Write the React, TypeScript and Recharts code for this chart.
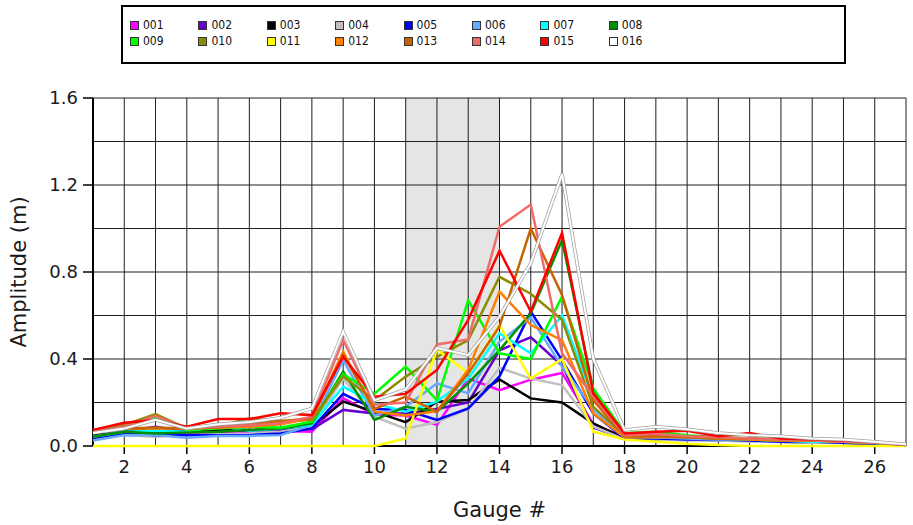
import { LineChart, Line, XAxis, YAxis, CartesianGrid, ReferenceArea } from "recharts";

const gauges = [1, 2, 3, 4, 5, 6, 7, 8, 9, 10, 11, 12, 13, 14, 15, 16, 17, 18, 19, 20, 21, 22, 23, 24, 25, 26, 27];

const seriesNames = ["001", "002", "003", "004", "005", "006", "007", "008", "009", "010", "011", "012", "013", "014", "015", "016"];
const seriesColors = [
  "#ff00ff", "#6600cc", "#000000", "#c0c0c0", "#0000ff", "#66aaff", "#00ffff", "#009000",
  "#00ff00", "#8c8c00", "#ffff00", "#ff7f00", "#c86400", "#f06a6a", "#ff0000", "#ffffff",
];

// amplitude (m) per gauge
const s001 = [0.038, 0.058, 0.062, 0.058, 0.062, 0.066, 0.069, 0.066, 0.219, 0.145, 0.14, 0.097, 0.31, 0.257, 0.305, 0.336, 0.1, 0.04, 0.04, 0.035, 0.03, 0.025, 0.02, 0.02, 0.015, 0.01, 0.005];
const s002 = [0.043, 0.066, 0.089, 0.066, 0.069, 0.072, 0.075, 0.077, 0.166, 0.15, 0.15, 0.17, 0.2, 0.44, 0.5, 0.37, 0.085, 0.035, 0.035, 0.03, 0.03, 0.025, 0.02, 0.02, 0.015, 0.01, 0.005];
const s003 = [0.05, 0.066, 0.07, 0.066, 0.074, 0.089, 0.08, 0.089, 0.204, 0.158, 0.11, 0.204, 0.211, 0.306, 0.219, 0.2, 0.104, 0.035, 0.03, 0.03, 0.025, 0.025, 0.02, 0.015, 0.015, 0.01, 0.005];
const s004 = [0.028, 0.05, 0.043, 0.05, 0.054, 0.058, 0.066, 0.089, 0.31, 0.135, 0.08, 0.11, 0.17, 0.36, 0.31, 0.28, 0.09, 0.03, 0.03, 0.025, 0.025, 0.02, 0.02, 0.015, 0.015, 0.01, 0.005];
const s005 = [0.035, 0.058, 0.05, 0.05, 0.05, 0.05, 0.058, 0.081, 0.24, 0.17, 0.165, 0.12, 0.173, 0.32, 0.618, 0.395, 0.15, 0.035, 0.035, 0.03, 0.03, 0.025, 0.02, 0.02, 0.015, 0.01, 0.005];
const s006 = [0.025, 0.05, 0.05, 0.038, 0.046, 0.046, 0.05, 0.097, 0.395, 0.14, 0.18, 0.288, 0.242, 0.48, 0.59, 0.365, 0.17, 0.04, 0.04, 0.035, 0.03, 0.03, 0.025, 0.02, 0.02, 0.015, 0.005];
const s007 = [0.043, 0.066, 0.07, 0.066, 0.093, 0.07, 0.08, 0.097, 0.273, 0.196, 0.158, 0.204, 0.31, 0.518, 0.426, 0.6, 0.22, 0.045, 0.04, 0.04, 0.035, 0.03, 0.025, 0.02, 0.02, 0.015, 0.005];
const s008 = [0.043, 0.066, 0.058, 0.062, 0.066, 0.074, 0.08, 0.104, 0.342, 0.12, 0.18, 0.158, 0.288, 0.441, 0.61, 0.947, 0.257, 0.06, 0.05, 0.04, 0.035, 0.03, 0.025, 0.025, 0.02, 0.015, 0.005];
const s009 = [0.058, 0.089, 0.127, 0.074, 0.08, 0.089, 0.085, 0.112, 0.33, 0.24, 0.365, 0.21, 0.67, 0.426, 0.4, 0.687, 0.265, 0.06, 0.065, 0.05, 0.04, 0.035, 0.03, 0.025, 0.02, 0.015, 0.005];
const s010 = [0.074, 0.097, 0.147, 0.081, 0.089, 0.127, 0.112, 0.12, 0.32, 0.21, 0.319, 0.41, 0.487, 0.778, 0.7, 0.58, 0.18, 0.05, 0.05, 0.045, 0.04, 0.035, 0.03, 0.035, 0.025, 0.02, 0.005];
const s011 = [0, 0, 0, 0, 0, 0, 0, 0, 0, 0, 0.035, 0.444, 0.334, 0.556, 0.31, 0.4, 0.066, 0.03, 0.02, 0.01, 0.005, 0, 0, 0, 0, 0, 0];
const s012 = [0.07, 0.081, 0.081, 0.081, 0.085, 0.089, 0.1, 0.127, 0.434, 0.158, 0.14, 0.16, 0.35, 0.71, 0.556, 0.487, 0.15, 0.04, 0.04, 0.04, 0.035, 0.03, 0.025, 0.025, 0.02, 0.015, 0.005];
const s013 = [0.074, 0.081, 0.085, 0.08, 0.085, 0.1, 0.115, 0.127, 0.42, 0.17, 0.227, 0.158, 0.334, 0.55, 1.0, 0.694, 0.21, 0.045, 0.045, 0.04, 0.035, 0.035, 0.03, 0.035, 0.025, 0.02, 0.005];
const s014 = [0.066, 0.09, 0.139, 0.08, 0.089, 0.095, 0.105, 0.135, 0.487, 0.19, 0.2, 0.467, 0.49, 1.008, 1.11, 0.426, 0.227, 0.05, 0.055, 0.045, 0.04, 0.035, 0.03, 0.025, 0.02, 0.015, 0.005];
const s015 = [0.074, 0.107, 0.12, 0.089, 0.124, 0.124, 0.15, 0.142, 0.41, 0.227, 0.24, 0.35, 0.58, 0.898, 0.618, 0.98, 0.242, 0.058, 0.066, 0.07, 0.045, 0.06, 0.035, 0.03, 0.025, 0.02, 0.005];
const s016 = [0.06, 0.08, 0.12, 0.08, 0.1, 0.11, 0.13, 0.173, 0.526, 0.21, 0.26, 0.45, 0.418, 0.595, 0.84, 1.25, 0.4, 0.074, 0.089, 0.077, 0.06, 0.05, 0.045, 0.035, 0.03, 0.02, 0.008];

const allSeries = [s001, s002, s003, s004, s005, s006, s007, s008, s009, s010, s011, s012, s013, s014, s015, s016];

const xTicks = [2, 4, 6, 8, 10, 12, 14, 16, 18, 20, 22, 24, 26];
const yTicks = [0, 0.4, 0.8, 1.2, 1.6];
const gridY = [0, 0.2, 0.4, 0.6, 0.8, 1.0, 1.2, 1.4, 1.6];
const shadeFrom = 11;
const shadeTo = 14;

const data = gauges.map((g, i) => {
  const row: Record<string, number> = { gauge: g };
  seriesNames.forEach((name, k) => {
    row[name] = allSeries[k][i];
  });
  return row;
});

const frame = { stroke: "#000", strokeWidth: 2 };
const tickStyle = { fill: "#1a1a1a", fontSize: 18 };

export default function App() {
  return (
    <div
      style={{
        position: "absolute",
        left: 0,
        top: 0,
        width: 913,
        height: 525,
        background: "#fff",
        fontFamily: "'DejaVu Sans', sans-serif",
      }}
    >
      {/* legend box */}
      <div
        style={{
          position: "absolute",
          left: 121,
          top: 5,
          width: 725,
          height: 59,
          border: "2px solid #000",
          boxSizing: "border-box",
          fontFamily: "'Liberation Sans Narrow', 'DejaVu Sans Condensed', sans-serif",
          fontSize: 12,
          color: "#111",
        }}
      >
        {seriesNames.map((name, k) => (
          <div
            key={name}
            style={{
              position: "absolute",
              left: 7 + (k % 8) * 68.4,
              top: 12 + Math.floor(k / 8) * 16,
              display: "flex",
              alignItems: "center",
              lineHeight: "12px",
            }}
          >
            <span
              style={{
                display: "inline-block",
                width: 7,
                height: 7,
                border: "1px solid #333",
                background: seriesColors[k],
                marginRight: 4,
              }}
            />
            <span>{name}</span>
          </div>
        ))}
      </div>

      <LineChart
        width={913}
        height={525}
        data={data}
        margin={{ top: 98, right: 7, bottom: 49, left: 18 }}
      >
        <ReferenceArea
          x1={shadeFrom}
          x2={shadeTo}
          fill="#e5e5e5"
          fillOpacity={1}
          stroke="none"
          zIndex={-200}
        />
        <CartesianGrid
          stroke="#1e1e1e"
          strokeWidth={1}
          horizontalValues={gridY}
          verticalValues={gauges}
        />
        <XAxis
          dataKey="gauge"
          type="number"
          domain={[1, 27]}
          ticks={xTicks}
          height={30}
          tickSize={8}
          tickMargin={6}
          axisLine={frame}
          tickLine={{ stroke: "#000", strokeWidth: 1.5 }}
          tick={tickStyle}
          label={{ value: "Gauge #", position: "bottom", offset: 26, style: { fontSize: 21, fill: "#1a1a1a" } }}
        />
        <XAxis
          xAxisId="top"
          orientation="top"
          dataKey="gauge"
          type="number"
          domain={[1, 27]}
          ticks={xTicks}
          height={0}
          tickSize={8}
          tick={false}
          axisLine={frame}
          tickLine={{ stroke: "#000", strokeWidth: 1.5 }}
        />
        <YAxis
          type="number"
          domain={[0, 1.6]}
          ticks={yTicks}
          width={75}
          tickSize={10}
          tickMargin={5}
          tickFormatter={(v: number) => v.toFixed(1)}
          axisLine={frame}
          tickLine={{ stroke: "#000", strokeWidth: 1.5 }}
          tick={tickStyle}
          label={{
            value: "Amplitude (m)",
            angle: -90,
            position: "insideLeft",
            offset: 1,
            style: { textAnchor: "middle", fontSize: 21, fill: "#1a1a1a" },
          }}
        />
        <YAxis
          yAxisId="right"
          orientation="right"
          type="number"
          domain={[0, 1.6]}
          ticks={yTicks}
          width={0}
          tickSize={8}
          tick={false}
          axisLine={frame}
          tickLine={{ stroke: "#000", strokeWidth: 1.5 }}
        />
        {seriesNames.slice(0, 15).map((name, k) => (
          <Line
            key={name}
            type="linear"
            dataKey={name}
            stroke={seriesColors[k]}
            strokeWidth={2.5}
            dot={false}
            isAnimationActive={false}
            zIndex={600}
          />
        ))}
        {/* white series gets a grey outline so it shows on the white background */}
        <Line type="linear" dataKey="016" stroke="#a0a0a0" strokeWidth={3.5} dot={false} isAnimationActive={false} zIndex={600} />
        <Line type="linear" dataKey="016" stroke="#ffffff" strokeWidth={2} dot={false} isAnimationActive={false} zIndex={600} />
      </LineChart>
    </div>
  );
}
